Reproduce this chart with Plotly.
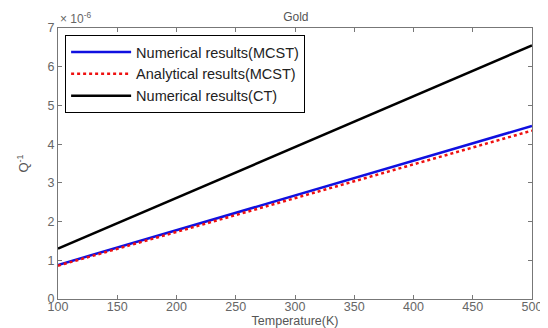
import plotly.graph_objects as go

temperature = [100, 200, 300, 400, 500]
num_mcst = [0.88, 1.78, 2.67, 3.57, 4.47]
ana_mcst = [0.86, 1.73, 2.60, 3.48, 4.35]
num_ct = [1.30, 2.61, 3.92, 5.24, 6.55]

x_ticks = [100, 150, 200, 250, 300, 350, 400, 450, 500]
y_ticks = [0, 1, 2, 3, 4, 5, 6, 7]

fig = go.Figure()
fig.add_trace(go.Scatter(x=temperature, y=num_mcst, mode="lines", name="Numerical results(MCST)",
                         line=dict(color="#1010e0", width=2.5)))
fig.add_trace(go.Scatter(x=temperature, y=ana_mcst, mode="lines", name="Analytical results(MCST)",
                         line=dict(color="#ee1010", width=2.5, dash="dot")))
fig.add_trace(go.Scatter(x=temperature, y=num_ct, mode="lines", name="Numerical results(CT)",
                         line=dict(color="black", width=2.5)))

axis_common = dict(showgrid=False, zeroline=False, showline=True, linecolor="#777", linewidth=1,
                   mirror="ticks", ticks="inside", ticklen=4, tickcolor="#777", automargin=False,
                   tickfont=dict(family="Liberation Sans, Arial", size=12.5, color="#666"))
# page body has an 8px default margin, so the figure is drawn 8px in from the top-left
fig.update_layout(
    width=540, height=320,
    margin=dict(l=50, r=16, t=20, b=29),
    paper_bgcolor="white", plot_bgcolor="white",
    font=dict(family="Liberation Sans, Arial", color="#555"),
    title=dict(text="Gold", x=0.533, xanchor="center", y=0.985, yanchor="top",
               font=dict(size=12, color="#555")),
    xaxis=dict(range=[100, 500], tickvals=x_ticks, **axis_common, ticklabelstandoff=-4,
               title=dict(text="Temperature(K)", font=dict(size=12.5, color="#555"), standoff=0)),
    yaxis=dict(range=[0, 7], tickvals=y_ticks, **axis_common,
               title=dict(text="Q<sup>-1</sup>", font=dict(size=13, color="#555"), standoff=15)),
    legend=dict(x=0.015, y=0.974, xanchor="left", yanchor="top", bordercolor="black", borderwidth=1,
                bgcolor="white", font=dict(size=14.5, color="#222"), tracegroupgap=0,
                itemwidth=60),
    showlegend=True,
)
fig.add_annotation(text="× 10<sup>-6</sup>", xref="paper", yref="paper", x=0.0, y=1.0,
                   xanchor="left", yanchor="bottom", showarrow=False,
                   font=dict(size=12, color="#666"))
fig.write_html("out.html")
